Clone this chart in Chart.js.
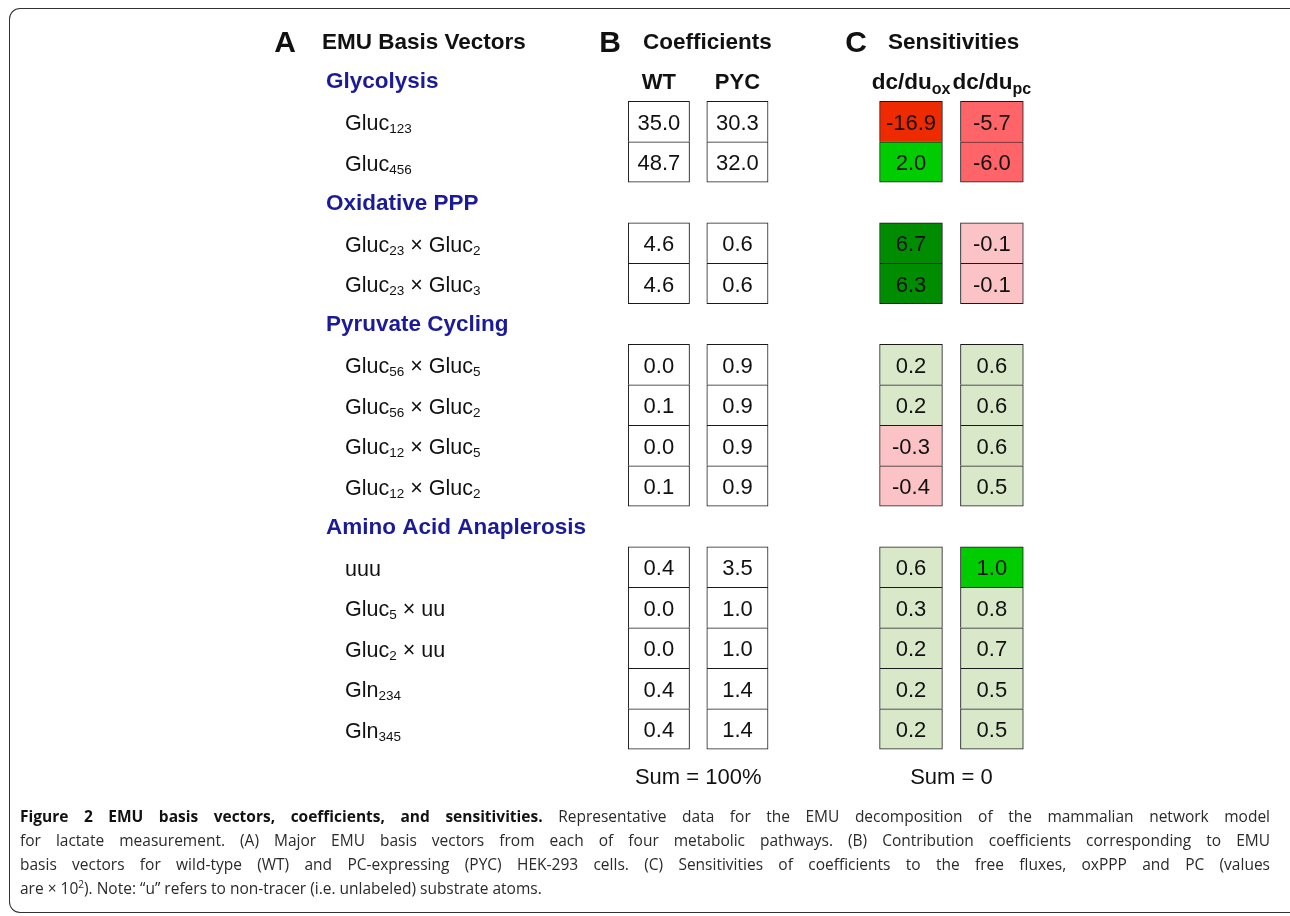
<!DOCTYPE html>
<html>
<head>
<meta charset="utf-8">
<script src="https://cdn.jsdelivr.net/npm/chart.js@4/dist/chart.umd.min.js"></script>
<style>
  html, body { margin:0; padding:0; background:#fff; width:1290px; height:916px; overflow:hidden; }
  #frame { position:absolute; left:9px; top:8px; width:1300px; height:905px; border:1.5px solid #333; border-right:none; border-radius:11px 0 0 11px; box-sizing:border-box; }
  #wrap { position:absolute; left:0; top:0; width:1290px; height:916px; }
  #caption { position:absolute; left:20px; top:804px; width:1250px; font-family:"Open Sans", sans-serif; font-size:15.5px; line-height:24px; color:#2a2a2a; }
  #caption .ln { white-space:nowrap; text-align:justify; text-align-last:justify; }
  #caption .last { text-align:left; text-align-last:left; }
  #caption b { font-weight:700; color:#111; }
</style>
</head>
<body>
<div id="frame"></div>
<div id="wrap"><canvas id="c" width="1290" height="916"></canvas></div>
<div id="caption">
  <div class="ln"><b>Figure 2 EMU basis vectors, coefficients, and sensitivities.</b> Representative data for the EMU decomposition of the mammalian network model</div>
  <div class="ln">for lactate measurement. (A) Major EMU basis vectors from each of four metabolic pathways. (B) Contribution coefficients corresponding to EMU</div>
  <div class="ln">basis vectors for wild-type (WT) and PC-expressing (PYC) HEK-293 cells. (C) Sensitivities of coefficients to the free fluxes, oxPPP and PC (values</div>
  <div class="ln last">are × 10<sup style="font-size:10px;line-height:0">2</sup>). Note: “u” refers to non-tracer (i.e. unlabeled) substrate atoms.</div>
</div>
<script>
// ---------------- data ----------------
const sections = ["Glycolysis", "Oxidative PPP", "Pyruvate Cycling", "Amino Acid Anaplerosis"];
const rowLabels = ["Gluc_{123}", "Gluc_{456}",
  "Gluc_{23} × Gluc_{2}", "Gluc_{23} × Gluc_{3}",
  "Gluc_{56} × Gluc_{5}", "Gluc_{56} × Gluc_{2}", "Gluc_{12} × Gluc_{5}", "Gluc_{12} × Gluc_{2}",
  "uuu", "Gluc_{5} × uu", "Gluc_{2} × uu", "Gln_{234}", "Gln_{345}"];
const rowSection = [0, 0, 1, 1, 2, 2, 2, 2, 3, 3, 3, 3, 3];
const coefWT  = [35.0, 48.7, 4.6, 4.6, 0.0, 0.1, 0.0, 0.1, 0.4, 0.0, 0.0, 0.4, 0.4];
const coefPYC = [30.3, 32.0, 0.6, 0.6, 0.9, 0.9, 0.9, 0.9, 3.5, 1.0, 1.0, 1.4, 1.4];
const sensOx  = [-16.9, 2.0, 6.7, 6.3, 0.2, 0.2, -0.3, -0.4, 0.6, 0.3, 0.2, 0.2, 0.2];
const sensPc  = [-5.7, -6.0, -0.1, -0.1, 0.6, 0.6, 0.6, 0.5, 1.0, 0.8, 0.7, 0.5, 0.5];
const columnHeaders = ["WT", "PYC", "dc/du_{ox}", "dc/du_{pc}"];
const panelTitles = [["A", "EMU Basis Vectors"], ["B", "Coefficients"], ["C", "Sensitivities"]];
const sumLabels = ["Sum = 100%", "Sum = 0"];

// ---------------- layout / style ----------------
const colPos = [0, 1, 3.21, 4.24];
const colHalf = [0.39, 0.39, 0.40, 0.40];
const FONT = '"Liberation Sans", Arial, sans-serif';
const NAVY = '#1b1b9a';
function sensColor(v) {
  if (v <= -10) return '#ee2a00';
  if (v <= -1) return '#ff6468';
  if (v < 0) return '#fbc3c5';
  if (v < 1) return '#d9e8c9';
  if (v < 5) return '#00cc00';
  return '#008c00';
}

// build slots: section header, its rows ..., then the sum row
const slots = [];
sections.forEach((s, si) => {
  slots.push({ type: 'section', label: s });
  rowSection.forEach((sec, ri) => { if (sec === si) slots.push({ type: 'row', label: rowLabels[ri], row: ri }); });
});
slots.push({ type: 'sum', label: 'Sum' });

const colValues = [coefWT, coefPYC, sensOx, sensPc];
const datasets = colValues.map((vals, k) => {
  const data = slots.map(s => s.type === 'row' ? [colPos[k] - colHalf[k], colPos[k] + colHalf[k]] : null);
  const text = slots.map(s => s.type === 'row' ? vals[s.row] : null);
  const bg = slots.map(s => s.type === 'row' ? (k < 2 ? '#ffffff' : sensColor(vals[s.row])) : 'rgba(0,0,0,0)');
  const bw = slots.map((s, i) => {
    const last = !(slots[i + 1] && slots[i + 1].type === 'row');
    return { top: 1, left: 1, right: 1, bottom: last ? 1 : 0 };
  });
  return {
    data, cellText: text, backgroundColor: bg, borderColor: '#1a1a1a', borderWidth: bw,
    borderSkipped: false, barPercentage: 1, categoryPercentage: 1, grouped: false
  };
});

function drawRich(ctx, str, x, y, size, bold, subSize, subDy, align) {
  const parts = [];
  const re = /_\{([^}]*)\}/g;
  let last = 0, m;
  while ((m = re.exec(str)) !== null) {
    if (m.index > last) parts.push({ t: str.slice(last, m.index), sub: false });
    parts.push({ t: m[1], sub: true });
    last = re.lastIndex;
  }
  if (last < str.length) parts.push({ t: str.slice(last), sub: false });
  const w = bold ? 'bold ' : '';
  let total = 0;
  parts.forEach(p => { ctx.font = w + (p.sub ? subSize : size) + 'px ' + FONT; p.w = ctx.measureText(p.t).width; total += p.w; });
  let cx = align === 'center' ? x - total / 2 : x;
  ctx.textAlign = 'left';
  ctx.textBaseline = 'alphabetic';
  parts.forEach(p => {
    ctx.font = w + (p.sub ? subSize : size) + 'px ' + FONT;
    ctx.fillText(p.t, cx, y + (p.sub ? subDy : 0));
    cx += p.w;
  });
  return total;
}

const tablePlugin = {
  id: 'tableText',
  afterDatasetsDraw(chart) {
    const ctx = chart.ctx;
    const ys = chart.scales.y, xs = chart.scales.x;
    const pitch = ys.getPixelForValue(1) - ys.getPixelForValue(0);
    ctx.save();
    // cell values
    chart.data.datasets.forEach((ds, k) => {
      const meta = chart.getDatasetMeta(k);
      meta.data.forEach((el, i) => {
        const v = ds.cellText[i];
        if (v === null || v === undefined) return;
        const props = el.getProps(['x', 'y', 'base'], true);
        ctx.fillStyle = '#111';
        ctx.font = '22px ' + FONT;
        ctx.textAlign = 'center';
        ctx.textBaseline = 'alphabetic';
        ctx.fillText(v.toFixed(1), (props.x + props.base) / 2, props.y + 8);
      });
    });
    // row labels and section headers
    slots.forEach((s, i) => {
      const y = ys.getPixelForValue(i);
      if (s.type === 'section') {
        ctx.fillStyle = NAVY;
        drawRich(ctx, s.label, 326, y + 7, 22.5, true, 14, 3, 'left');
      } else if (s.type === 'row') {
        ctx.fillStyle = '#111';
        drawRich(ctx, s.label, 345, y + 8.5, 21.5, false, 13.5, 3, 'left');
      } else {
        ctx.fillStyle = '#111';
        drawRich(ctx, sumLabels[0], (xs.getPixelForValue(colPos[0]) + xs.getPixelForValue(colPos[1])) / 2, y + 14, 22, false, 14, 3, 'center');
        drawRich(ctx, sumLabels[1], (xs.getPixelForValue(colPos[2]) + xs.getPixelForValue(colPos[3])) / 2, y + 14, 22, false, 14, 3, 'center');
      }
    });
    // column headers
    const y0 = ys.getPixelForValue(0);
    ctx.fillStyle = '#111';
    columnHeaders.forEach((h, k) => {
      drawRich(ctx, h, xs.getPixelForValue(colPos[k]), y0 + 8, k < 2 ? 22 : 22.5, true, 16, 5, 'center');
    });
    // panel titles
    const yt = y0 - pitch + 8;
    const titleX = [[285, 322], [610, 643], [856, 888]];
    panelTitles.forEach((p, k) => {
      ctx.fillStyle = '#111';
      ctx.font = 'bold 30px ' + FONT;
      ctx.textAlign = 'center';
      ctx.textBaseline = 'alphabetic';
      ctx.fillText(p[0], titleX[k][0], yt + 3);
      ctx.font = 'bold 22.5px ' + FONT;
      ctx.textAlign = 'left';
      ctx.fillText(p[1], titleX[k][1], yt);
    });
    ctx.restore();
  }
};

new Chart(document.getElementById('c'), {
  type: 'bar',
  data: { labels: slots.map(s => s.label), datasets },
  options: {
    indexAxis: 'y',
    responsive: false,
    animation: false,
    devicePixelRatio: 1,
    layout: { padding: { left: 600, right: 240, top: 60.75, bottom: 126.25 } },
    plugins: { legend: { display: false }, tooltip: { enabled: false }, title: { display: false } },
    scales: {
      x: { type: 'linear', min: -0.75, max: 4.98, display: false },
      y: { type: 'category', offset: true, display: false, grid: { display: false } }
    }
  },
  plugins: [tablePlugin]
});
</script>
</body>
</html>
